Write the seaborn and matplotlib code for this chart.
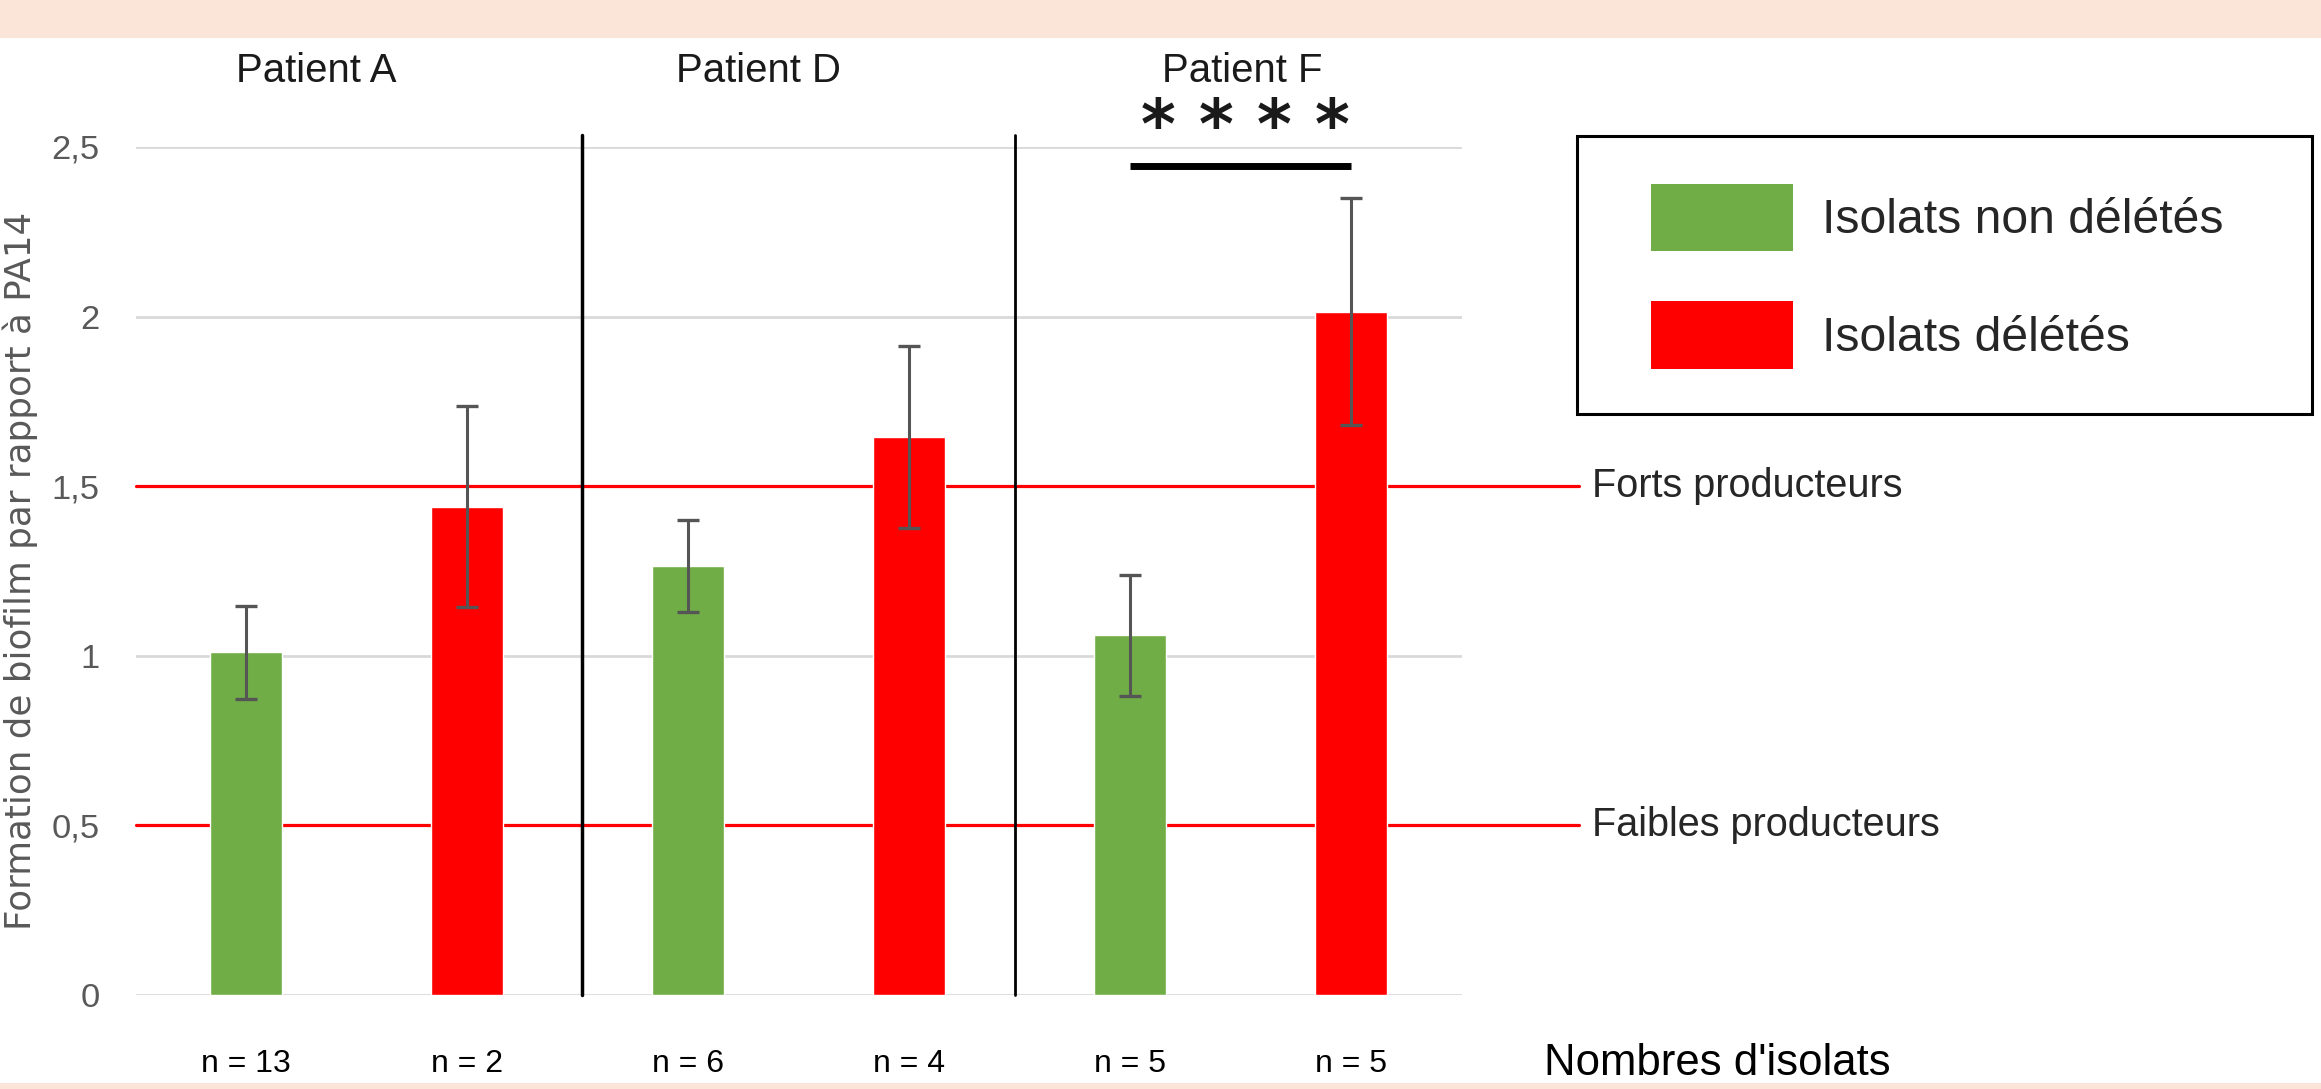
import numpy as np
import pandas as pd
import seaborn as sns
import matplotlib.pyplot as plt
from matplotlib.patches import Patch, Rectangle
from matplotlib.ticker import FuncFormatter

# data
bar_ids = ["A_non", "A_del", "D_non", "D_del", "F_non", "F_del"]
groups = ["Isolats non délétés", "Isolats délétés"] * 3
means = [1.01, 1.44, 1.265, 1.645, 1.06, 2.015]
errors = [0.136, 0.296, 0.136, 0.267, 0.179, 0.336]
n_labels = ["n = 13", "n = 2", "n = 6", "n = 4", "n = 5", "n = 5"]
patients = ["Patient A", "Patient D", "Patient F"]
patient_x = [0.32, 2.32, 4.51]
thresholds = [1.5, 0.5]
threshold_labels = ["Forts producteurs", "Faibles producteurs"]
yticks = [0, 0.5, 1, 1.5, 2, 2.5]
sig_pair = [4, 5]
sig_level = 2.443
sig_text = "* * * *"

green = "#70AD47"
red = "#FF0000"
colors = {"Isolats non délétés": green, "Isolats délétés": red}

df = pd.DataFrame({"bar": bar_ids, "groupe": groups, "valeur": means})

sns.set_style("white")
plt.rcParams["font.family"] = ["Liberation Sans", "DejaVu Sans"]

W, H = 2321, 1089
fig = plt.figure(figsize=(W / 100, H / 100), dpi=100)
ax = fig.add_axes([135.5 / W, 94 / H, 1326 / W, 848 / H])

# peach bands top and bottom
fig.patches.append(Rectangle((0, 1 - 38 / H), 1, 38 / H, transform=fig.transFigure,
                             facecolor="#FAE5D8", edgecolor="none", zorder=0))
fig.patches.append(Rectangle((0, 0), 1, 6 / H, transform=fig.transFigure,
                             facecolor="#FAE5D8", edgecolor="none", zorder=0))

sns.barplot(data=df, x="bar", y="valeur", hue="groupe", palette=colors, dodge=False,
            width=0.33, saturation=1, legend=False, ax=ax, zorder=2)
ax.errorbar(range(len(means)), means, yerr=errors, fmt="none", ecolor="#555555",
            elinewidth=2.2, capsize=8, capthick=2.4, zorder=3)

ax.set_xlim(-0.5, 5.5)
ax.set_ylim(0, 2.5)
ax.set_yticks(yticks)
ax.yaxis.set_major_formatter(FuncFormatter(lambda v, p: f"{v:g}".replace(".", ",")))
ax.yaxis.grid(True, color="#D9D9D9", lw=2)
ax.set_axisbelow(True)
for s in ax.spines.values():
    s.set_visible(False)
ax.set_xlabel("")
ax.set_ylabel("")
ax.set_xticks(range(len(n_labels)))
ax.set_xticklabels(n_labels)
ax.tick_params(axis="x", length=0, pad=39, labelsize=23, labelcolor="black")
ax.tick_params(axis="y", length=0, pad=26, labelsize=24.8, labelcolor="#595959")

# threshold lines
for t, lab in zip(thresholds, threshold_labels):
    ax.plot([-0.5, 6.03], [t, t], color=red, lw=2.3, clip_on=False, zorder=1)
    ax.text(6.09, t, lab, ha="left", va="center", fontsize=28.5, color="#262626")

# separators between patients
ax.plot([1.52, 1.52], [0, 2.534], color="black", lw=2.5, clip_on=False, zorder=2.5)
ax.plot([3.48, 3.48], [0, 2.534], color="black", lw=2, clip_on=False, zorder=2.5)

for name, x in zip(patients, patient_x):
    ax.text(x, 2.693, name, ha="center", va="baseline", fontsize=28.9, color="#1a1a1a")

# significance
ax.plot(sig_pair, [sig_level, sig_level], color="black", lw=5, solid_capstyle="butt",
        clip_on=False)
ax.text(4.52, 2.497, sig_text, ha="center", va="baseline", fontsize=48,
        fontweight="bold", family="DejaVu Sans", color="#1a1a1a")

fig.text(0.001, 0.476, "Formation de biofilm par rapport à PA14", rotation=90,
         ha="left", va="center", fontsize=25.7, color="#595959", family="DejaVu Sans")
fig.text(1544 / W, 1 - 1075 / H, "Nombres d'isolats", ha="left", va="baseline",
         fontsize=31.5, color="black")

# legend in its own box
handles = [Patch(facecolor=green, edgecolor="none"), Patch(facecolor=red, edgecolor="none")]
fig.legend(handles, ["Isolats non délétés", "Isolats délétés"], loc="upper left",
           bbox_to_anchor=(1651 / W, 1 - 184 / H), frameon=False, fontsize=34.7,
           handlelength=2.94, handleheight=1.77, handletextpad=0.6, labelspacing=1.04,
           borderpad=0, borderaxespad=0)
fig.patches.append(Rectangle((1577 / W, 1 - 414 / H), (2312 - 1577) / W, (414 - 136) / H,
                             transform=fig.transFigure, fill=False, edgecolor="black", lw=2.2))

fig.savefig("out.png", dpi=100, facecolor="white")
